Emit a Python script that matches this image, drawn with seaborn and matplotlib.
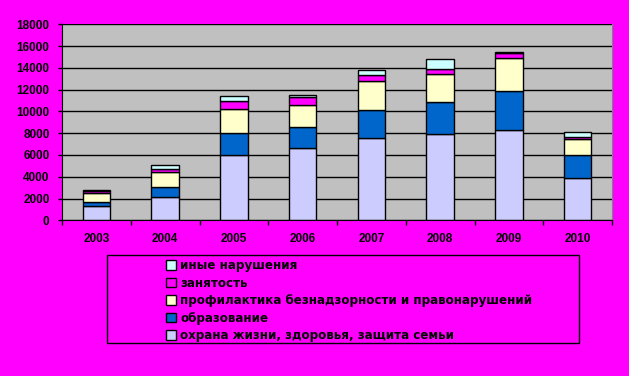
import matplotlib
matplotlib.use("Agg")
import matplotlib.pyplot as plt
import seaborn as sns
import pandas as pd
from matplotlib.patches import Patch, Rectangle
from matplotlib.ticker import FixedLocator

# ---- data ----
years = [2003, 2004, 2005, 2006, 2007, 2008, 2009, 2010]
categories = [
    "иные нарушения",
    "занятость",
    "профилактика безнадзорности и правонарушений",
    "образование",
    "охрана жизни, здоровья, защита семьи",
]
inye = [80, 370, 460, 180, 460, 920, 120, 430]
zanyatost = [150, 280, 740, 740, 550, 460, 490, 220]
profilaktika = [830, 1290, 2150, 2020, 2670, 2580, 3030, 1470]
obrazovanie = [370, 920, 2040, 1930, 2490, 2950, 3580, 2110]
okhrana = [1350, 2180, 6000, 6600, 7600, 7880, 8270, 3860]
series = [inye, zanyatost, profilaktika, obrazovanie, okhrana]
colors = ["#CCFFFF", "#FF00FF", "#FFFFCC", "#0066CC", "#CCCCFF"]
yticks = [0, 2000, 4000, 6000, 8000, 10000, 12000, 14000, 16000, 18000]

rows = []
for cat, vals in zip(categories, series):
    for y, v in zip(years, vals):
        rows.append({"year": y, "category": cat, "value": v})
df = pd.DataFrame(rows)

plt.rcParams["font.family"] = ["Liberation Sans", "DejaVu Sans"]
plt.rcParams["font.weight"] = "bold"

W, H = 629, 376
fig = plt.figure(figsize=(W / 100, H / 100), dpi=100, facecolor="#FF00FF")
ax = fig.add_axes([62 / W, 1 - 220.3 / H, 550 / W, 196 / H])
ax.set_facecolor("#C0C0C0")

sns.histplot(
    data=df, x="year", weights="value", hue="category", hue_order=categories,
    multiple="stack", discrete=True, shrink=0.4, palette=colors,
    edgecolor="black", linewidth=1, alpha=1, legend=False, ax=ax,
)

ax.set_xlim(years[0] - 0.5, years[-1] + 0.5)
ax.set_ylim(yticks[0], yticks[-1])
ax.set_yticks(yticks)
ax.set_yticklabels([str(t) for t in yticks])
ax.set_xticks(years)
ax.set_xticklabels([str(y) for y in years])
ax.xaxis.set_minor_locator(FixedLocator([y - 0.5 for y in years] + [years[-1] + 0.5]))
ax.set_xlabel("")
ax.set_ylabel("")

ax.yaxis.grid(True, color="black", linewidth=1)
ax.xaxis.grid(False)
ax.set_axisbelow(True)

ax.tick_params(axis="y", length=3, width=1, pad=6, labelsize=8.5, color="black")
ax.tick_params(axis="x", which="major", length=0, pad=9, labelsize=8.5)
ax.tick_params(axis="x", which="minor", length=3.6, width=1, color="black")
for lbl in ax.get_xticklabels() + ax.get_yticklabels():
    lbl.set_fontweight("bold")

ax.spines["left"].set_color("black")
ax.spines["bottom"].set_color("black")
ax.spines["top"].set_visible(False)
ax.spines["right"].set_color("#808080")

# legend box
fig.add_artist(Rectangle((107 / W, 1 - 343 / H), 472 / W, 88 / H,
                         transform=fig.transFigure, facecolor="none",
                         edgecolor="black", linewidth=1))
handles = [Patch(facecolor=c, edgecolor="black", linewidth=1) for c in colors]
fig.legend(handles, categories, loc="upper left",
           bbox_to_anchor=(160 / W, 1 - 253 / H), frameon=False,
           borderpad=0, handlelength=0.85, handleheight=0.85,
           handletextpad=0.35, labelspacing=0.38,
           prop={"size": 8.6, "weight": "bold", "family": ["DejaVu Sans"]})

fig.savefig("out.png", dpi=100, facecolor=fig.get_facecolor())
